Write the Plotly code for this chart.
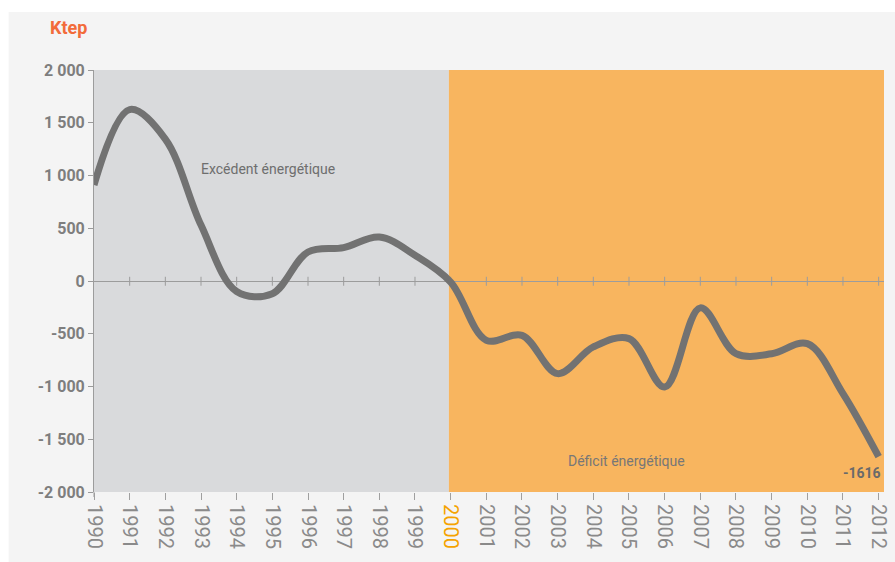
import plotly.graph_objects as go

years = list(range(1990, 2013))
balance = [910, 1625, 1345, 530, -100, -120, 275, 316, 417, 244, -10,
           -562, -515, -878, -625, -546, -1005, -255, -688, -690, -594, -1067, -1665]
end_label = "-1616"
y_ticks = [-2000, -1500, -1000, -500, 0, 500, 1000, 1500, 2000]
y_tick_text = ["-2 000", "-1 500", "-1 000", "-500", "0", "500", "1 000", "1 500", "2 000"]
surplus_label = "Excédent énergétique"
deficit_label = "Déficit énergétique"
unit_label = "Ktep"
split_year = 2000

W, H = 895, 562
L, R, T, B = 94.3, 11, 70, 70
pw, ph = W - L - R, H - T - B

def px_x(p):  # window pixel -> paper x
    return (p - L) / pw

def px_y(p):  # window pixel -> paper y
    return (H - B - p) / ph

x_tick_text = [f"<span style='color:#f5a300'>{y}</span>" if y == split_year else str(y) for y in years]

fig = go.Figure()
fig.add_trace(go.Scatter(
    x=years, y=balance, mode="lines",
    line=dict(color="#727272", width=7, shape="spline", smoothing=1.0),
    hoverinfo="skip", showlegend=False,
))

shapes = [
    dict(type="rect", xref="x", yref="y", x0=years[0], x1=split_year - 0.05, y0=-2000, y1=2000,
         fillcolor="#d9dadc", line=dict(width=0), layer="below"),
    dict(type="rect", xref="x", yref="y", x0=split_year - 0.05, x1=2012.3, y0=-2000, y1=2000,
         fillcolor="#f8b55f", line=dict(width=0), layer="below"),
    # white page strips around the chart panel
    dict(type="rect", xref="paper", yref="paper", x0=px_x(0), x1=px_x(W), y0=px_y(12), y1=px_y(0),
         fillcolor="#ffffff", line=dict(width=0), layer="below"),
    dict(type="rect", xref="paper", yref="paper", x0=px_x(0), x1=px_x(9), y0=px_y(H), y1=px_y(0),
         fillcolor="#ffffff", line=dict(width=0), layer="below"),
    # short continuation of the y axis below -2000
    dict(type="line", xref="paper", yref="paper", x0=0, x1=0, y0=px_y(497), y1=0,
         line=dict(color="#9c9c9c", width=1)),
]
for yr in years[1:]:
    shapes.append(dict(type="line", xref="x", yref="y", x0=yr, x1=yr, y0=-45, y1=40,
                       line=dict(color="#9c9c9c", width=1), layer="between"))

annotations = [
    dict(x=1994.87, y=1060, xref="x", yref="y", text=surplus_label, showarrow=False,
         font=dict(family="Roboto", size=14, color="#6e6e6e")),
    dict(x=2004.93, y=-1709, xref="x", yref="y", text=deficit_label, showarrow=False,
         font=dict(family="Roboto", size=14, color="#777777")),
    dict(x=years[-1] + 0.12, y=-1725, xref="x", yref="y", text=f"<b>{end_label}</b>",
         showarrow=False, xanchor="right", yanchor="top",
         font=dict(family="Roboto", size=14, color="#6a6a6a")),
    dict(x=px_x(69), y=px_y(27.5), xref="paper", yref="paper", text=f"<b>{unit_label}</b>",
         showarrow=False, xanchor="center", yanchor="middle",
         font=dict(family="Roboto", size=18, color="#f26b3a")),
]

fig.update_layout(
    width=W, height=H,
    margin=dict(l=L, r=R, t=T, b=B),
    paper_bgcolor="#f4f4f4", plot_bgcolor="#f4f4f4",
    shapes=shapes, annotations=annotations,
    showlegend=False,
    xaxis=dict(range=[1990, 2012.15], tickvals=years, ticktext=x_tick_text, tickangle=90,
               ticks="outside", ticklen=7, tickcolor="#a0a0a0", showgrid=False, zeroline=False,
               showline=False, fixedrange=True, automargin=False,
               tickfont=dict(family="Roboto", size=20, color="#8a8a8a")),
    yaxis=dict(range=[-2000, 2000], tickvals=y_ticks, ticktext=y_tick_text,
               ticks="outside", ticklen=5, tickcolor="#9a9a9a", showgrid=False,
               zeroline=True, zerolinecolor="#9c9c9c", zerolinewidth=1,
               showline=True, linecolor="#9c9c9c", linewidth=1, fixedrange=True, automargin=False,
               tickfont=dict(family="Roboto", size=16, color="#7e7e7e", weight="bold")),
)

fig.write_html(
    "out.html",
    config={"responsive": False, "displayModeBar": False},
    post_script="document.body.style.margin='0';document.body.style.overflow='hidden';",
)
